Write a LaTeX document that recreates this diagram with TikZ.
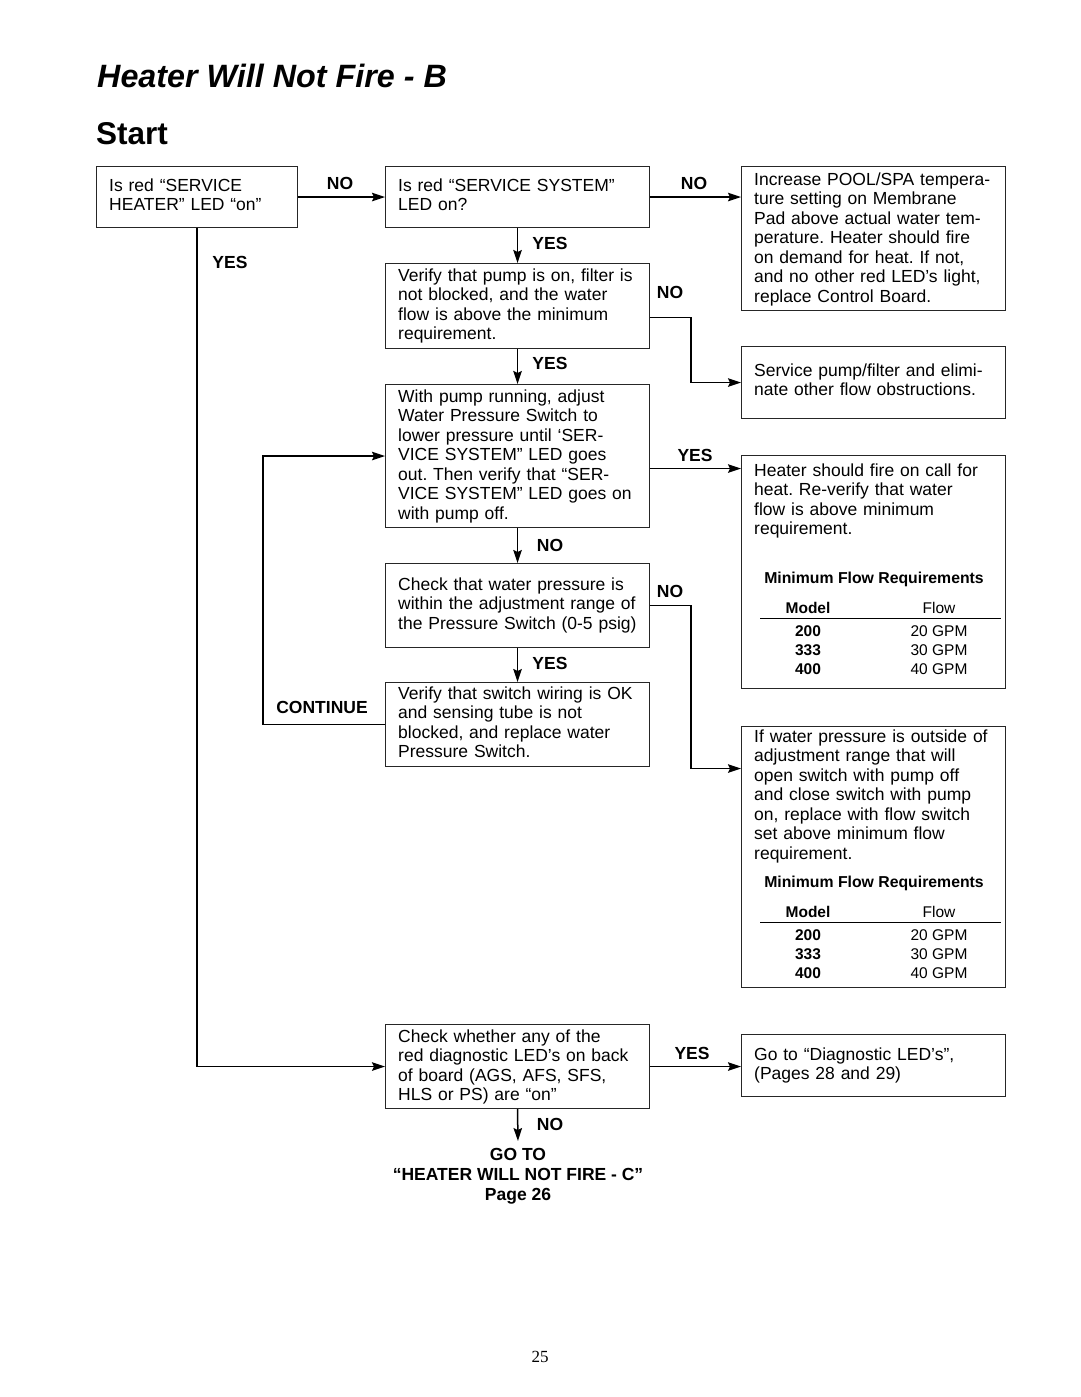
\documentclass[tikz,border=0pt]{standalone}
\usepackage{fontspec}
\setmainfont{Liberation Sans}
\newfontfamily\pgserif{Liberation Serif}
\usetikzlibrary{arrows.meta,calc}
\frenchspacing
\newcommand{\flowtab}[2]{%
  % #1 prefix, #2 title centre y
  \node[tbt] (#1t) at (874,#2+5) {Minimum Flow Requirements};
  \node[tbb] (#1h1) at (808,#2+35) {Model};
  \node[tbr] (#1h2) at (939,#2+35) {Flow};
  \draw[line width=0.9pt] (760,#2+40) -- (1001,#2+40);
  \node[tbb] (#1a1) at (808,#2+58) {200};
  \node[tbr] (#1a2) at (939,#2+58) {20 GPM};
  \node[tbb] (#1b1) at (808,#2+77) {333};
  \node[tbr] (#1b2) at (939,#2+77) {30 GPM};
  \node[tbb] (#1c1) at (808,#2+96) {400};
  \node[tbr] (#1c2) at (939,#2+96) {40 GPM};
}
\begin{document}
\begin{tikzpicture}[x=1pt,y=-1pt,
  box/.style={draw=black!85,line width=1.1pt,anchor=north west,inner sep=0pt},
  txt/.style={anchor=north west,inner sep=0pt,align=left,text width=262pt,font=\fontsize{17.5}{19.5}\selectfont},
  lbl/.style={inner sep=0pt,anchor=base,font=\bfseries\fontsize{17.5}{19}\selectfont},
  conn/.style={line width=1.5pt,-{Stealth[length=13pt,width=8.5pt,inset=2pt]}},
  tbt/.style={inner sep=0pt,anchor=base,font=\bfseries\fontsize{15.8}{17}\selectfont},
  tbb/.style={inner sep=0pt,anchor=base,font=\bfseries\fontsize{15.5}{17}\selectfont},
  tbr/.style={inner sep=0pt,anchor=base,font=\fontsize{15.5}{17}\selectfont},
]
\path[use as bounding box] (0,0) rectangle (1080,1397);

% titles
\node[inner sep=0pt,anchor=base west,font=\bfseries\itshape\fontsize{32.3}{34}\selectfont] (title) at (97,88) {Heater Will Not Fire - B};
\node[inner sep=0pt,anchor=base west,font=\bfseries\fontsize{31.5}{34}\selectfont] (start) at (96,144) {Start};

% boxes
\node[box,minimum width=201pt,minimum height=61pt] (A) at (96,166) {};
\node[box,minimum width=264pt,minimum height=61pt] (B) at (385,166) {};
\node[box,minimum width=264pt,minimum height=144pt] (C) at (741,166) {};
\node[box,minimum width=264pt,minimum height=85pt] (D) at (385,263) {};
\node[box,minimum width=264pt,minimum height=72pt] (E) at (741,346) {};
\node[box,minimum width=264pt,minimum height=143pt] (F) at (385,384) {};
\node[box,minimum width=264pt,minimum height=233pt] (G) at (741,455) {};
\node[box,minimum width=264pt,minimum height=84pt] (H) at (385,563) {};
\node[box,minimum width=264pt,minimum height=84pt] (I) at (385,682) {};
\node[box,minimum width=264pt,minimum height=261pt] (J) at (741,726) {};
\node[box,minimum width=264pt,minimum height=84pt] (K) at (385,1024) {};
\node[box,minimum width=264pt,minimum height=62pt] (L) at (741,1034) {};

% texts
\node[txt] (tA) at (109,177.6) {\strut Is red “SERVICE\\HEATER” LED “on”};
\node[txt] (tB) at (398,177.6) {\strut Is red “SERVICE SYSTEM”\\LED on?};
\node[txt] (tC) at (754,171.6) {\strut Increase POOL/SPA tempera-\\ture setting on Membrane\\Pad above actual water tem-\\perature. Heater should fire\\on demand for heat. If not,\\and no other red LED’s light,\\replace Control Board.};
\node[txt] (tD) at (398,267.6) {\strut Verify that pump is on, filter is\\not blocked, and the water\\flow is above the minimum\\requirement.};
\node[txt] (tE) at (754,362.6) {\strut Service pump/filter and elimi-\\nate other flow obstructions.};
\node[txt] (tF) at (398,388.6) {\strut With pump running, adjust\\Water Pressure Switch to\\lower pressure until ‘SER-\\VICE SYSTEM” LED goes\\out. Then verify that “SER-\\VICE SYSTEM” LED goes on\\with pump off.};
\node[txt] (tG) at (754,462.6) {\strut Heater should fire on call for\\heat. Re-verify that water\\flow is above minimum\\requirement.};
\node[txt] (tH) at (398,576.6) {\strut Check that water pressure is\\within the adjustment range of\\the Pressure Switch (0-5 psig)};
\node[txt] (tI) at (398,685.6) {\strut Verify that switch wiring is OK\\and sensing tube is not\\blocked, and replace water\\Pressure Switch.};
\node[txt] (tJ) at (754,728.6) {\strut If water pressure is outside of\\adjustment range that will\\open switch with pump off\\and close switch with pump\\on, replace with flow switch\\set above minimum flow\\requirement.};
\node[txt] (tK) at (398,1028.6) {\strut Check whether any of the\\red diagnostic LED’s on back\\of board (AGS, AFS, SFS,\\HLS or PS) are “on”};
\node[txt] (tL) at (754,1046.6) {\strut Go to “Diagnostic LED’s”,\\(Pages 28 and 29)};

% tables
\flowtab{g}{578}
\flowtab{j}{882}

% end text
\node[inner sep=0pt,anchor=north,align=center,font=\bfseries\fontsize{17.5}{20}\selectfont] (goto) at (518,1146) {\strut GO TO\\“HEATER WILL NOT FIRE - C”\\Page 26};

% connectors
\draw[conn] (A.east) -- (B.west);
\draw[conn] (B.east) -- (B.east -| C.west);
\draw[conn] (B.south) -- (D.north);
\draw[conn] ([yshift=-11.5pt]D.east) -- ++(41,0) |- (E.west);
\draw[conn] (D.south) -- (F.north);
\draw[conn] ([yshift=-12.5pt]F.east) -- ([yshift=-12.5pt]F.east -| G.west);
\draw[conn] (F.south) -- (H.north);
\draw[conn] (H.south) -- (I.north);
\draw[conn] (H.east) -- ++(41,0) |- ([yshift=88.5pt]J.west);
\draw[conn] (A.south) |- (K.west);
\draw[conn] (I.west) -- ++(-122,0) |- (F.west);
\draw[conn] (K.east) -- (K.east -| L.west);
\draw[conn,shorten >=5pt] (K.south) -- (goto.north);

% labels
\node[lbl] (l1) at (340,189) {NO};
\node[lbl] (l2) at (694,189) {NO};
\node[lbl] (l3) at (550,249) {YES};
\node[lbl] (l4) at (230,268) {YES};
\node[lbl] (l5) at (670,298) {NO};
\node[lbl] (l6) at (550,369) {YES};
\node[lbl] (l7) at (695,461) {YES};
\node[lbl] (l8) at (550,551) {NO};
\node[lbl] (l9) at (670,597) {NO};
\node[lbl] (l10) at (550,669) {YES};
\node[lbl] (l11) at (322,713) {CONTINUE};
\node[lbl] (l12) at (692,1059) {YES};
\node[lbl] (l13) at (550,1130) {NO};

% page number
\node[inner sep=0pt,anchor=base,font=\pgserif\fontsize{17}{19}\selectfont] (pg) at (540,1362) {25};
\end{tikzpicture}
\end{document}
